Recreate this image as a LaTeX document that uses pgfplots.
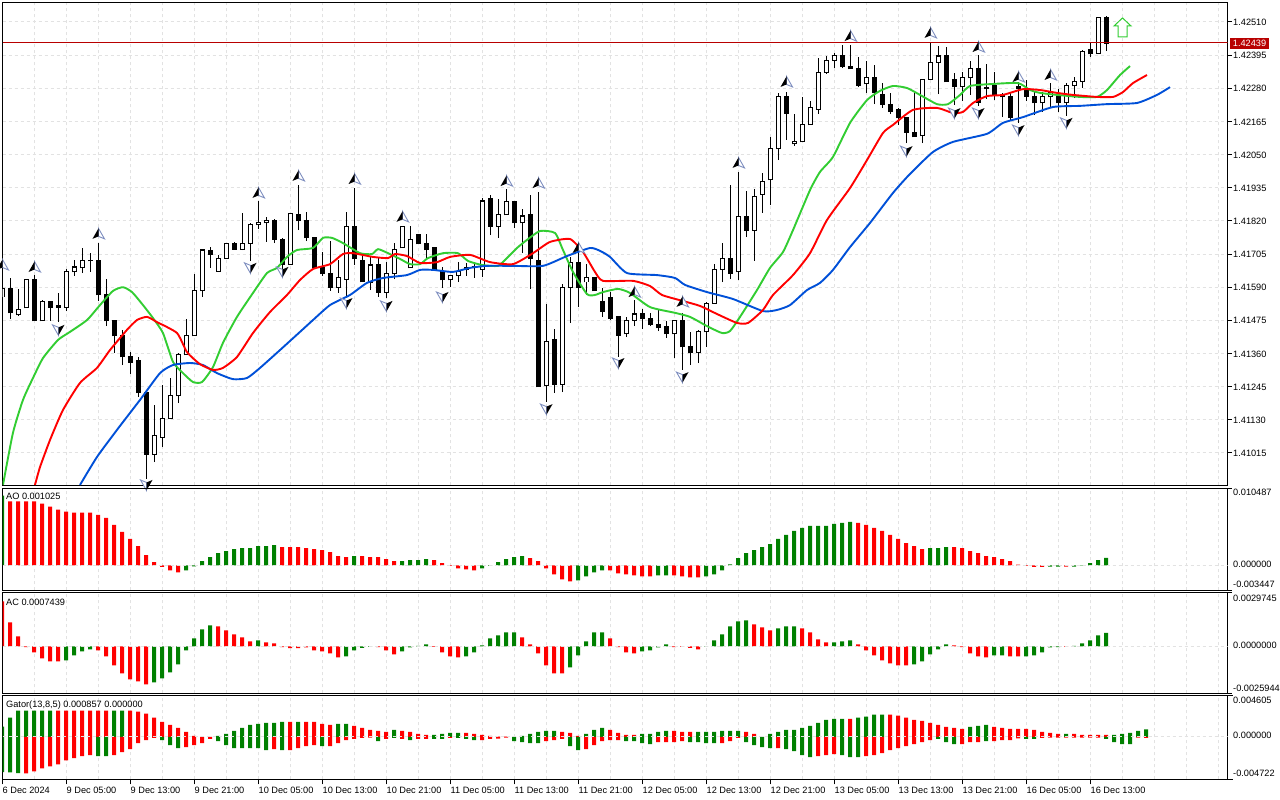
\documentclass[border=0pt]{standalone}
\usepackage{fontspec}
\setmainfont{Liberation Sans}
\usepackage{pgfplots}
\usepackage{pgfplotstable}
\pgfplotsset{compat=1.18}
\newcommand\lab{\fontsize{9.2}{10}\selectfont}
\definecolor{gridc}{HTML}{E2E2E2}
\definecolor{gbar}{HTML}{008000}
\definecolor{lips}{HTML}{32CD32}
\definecolor{jaw}{HTML}{0050D8}
\definecolor{pricec}{HTML}{B80000}
\definecolor{fracedge}{HTML}{7F8FC0}
\pgfdeclareplotmark{fup}{%
  \pgfpathmoveto{\pgfqpoint{0pt}{5.5pt}}\pgfpathlineto{\pgfqpoint{6pt}{-5pt}}\pgfpathlineto{\pgfqpoint{0pt}{-2.5pt}}\pgfpathclose
  \pgfsetfillcolor{white}\pgfsetstrokecolor{fracedge}\pgfsetlinewidth{0.9pt}\pgfusepath{fill,stroke}%
  \pgfpathmoveto{\pgfqpoint{0pt}{5.5pt}}\pgfpathlineto{\pgfqpoint{-6pt}{-5pt}}\pgfpathlineto{\pgfqpoint{0pt}{-2.5pt}}\pgfpathclose
  \pgfsetfillcolor{black}\pgfusepath{fill}}
\pgfdeclareplotmark{fdown}{%
  \pgfpathmoveto{\pgfqpoint{0pt}{-5.5pt}}\pgfpathlineto{\pgfqpoint{-6pt}{5pt}}\pgfpathlineto{\pgfqpoint{0pt}{2.5pt}}\pgfpathclose
  \pgfsetfillcolor{white}\pgfsetstrokecolor{fracedge}\pgfsetlinewidth{0.9pt}\pgfusepath{fill,stroke}%
  \pgfpathmoveto{\pgfqpoint{0pt}{-5.5pt}}\pgfpathlineto{\pgfqpoint{6pt}{5pt}}\pgfpathlineto{\pgfqpoint{0pt}{2.5pt}}\pgfpathclose
  \pgfsetfillcolor{black}\pgfusepath{fill}}
\pgfdeclareplotmark{bigup}{%
  \pgfpathmoveto{\pgfqpoint{0pt}{9.5pt}}\pgfpathlineto{\pgfqpoint{8.5pt}{1.5pt}}\pgfpathlineto{\pgfqpoint{4.5pt}{1.5pt}}\pgfpathlineto{\pgfqpoint{4.5pt}{-9.5pt}}\pgfpathlineto{\pgfqpoint{-4.5pt}{-9.5pt}}\pgfpathlineto{\pgfqpoint{-4.5pt}{1.5pt}}\pgfpathlineto{\pgfqpoint{-8.5pt}{1.5pt}}\pgfpathclose
  \pgfsetfillcolor{white}\pgfsetstrokecolor{lips}\pgfsetlinewidth{1pt}\pgfusepath{fill,stroke}}
\pgfplotstableread{
i hi top bot lo
0 1.41587 1.41587 1.41556 1.41556
2 1.41584 1.41511 1.41494 1.41490
3 1.41618 1.41618 1.41518 1.41518
5 1.41546 1.41539 1.41473 1.41473
8 1.41653 1.41646 1.41521 1.41507
9 1.41684 1.41660 1.41643 1.41629
10 1.41726 1.41684 1.41657 1.41639
11 1.41708 1.41684 1.41681 1.41643
19 1.41181 1.41074 1.41011 1.40983
20 1.41250 1.41133 1.41070 1.41036
21 1.41275 1.41213 1.41133 1.41133
22 1.41362 1.41355 1.41213 1.41188
23 1.41480 1.41421 1.41355 1.41355
24 1.41636 1.41577 1.41421 1.41421
25 1.41722 1.41719 1.41577 1.41556
27 1.41702 1.41688 1.41646 1.41646
28 1.41743 1.41743 1.41691 1.41691
30 1.41848 1.41743 1.41722 1.41719
31 1.41813 1.41806 1.41743 1.41681
32 1.41889 1.41816 1.41806 1.41792
33 1.41834 1.41823 1.41813 1.41747
36 1.41848 1.41844 1.41670 1.41670
42 1.41684 1.41625 1.41590 1.41570
43 1.41851 1.41799 1.41618 1.41556
46 1.41695 1.41667 1.41605 1.41580
48 1.41677 1.41636 1.41573 1.41553
49 1.41743 1.41722 1.41636 1.41618
50 1.41802 1.41799 1.41726 1.41726
51 1.41802 1.41757 1.41657 1.41657
56 1.41632 1.41629 1.41615 1.41590
57 1.41677 1.41646 1.41629 1.41608
58 1.41674 1.41657 1.41653 1.41629
59 1.41670 1.41660 1.41657 1.41622
60 1.41899 1.41889 1.41653 1.41625
62 1.41896 1.41841 1.41802 1.41761
63 1.41931 1.41886 1.41841 1.41841
65 1.41861 1.41837 1.41813 1.41708
68 1.41532 1.41403 1.41250 1.41192
70 1.41601 1.41590 1.41254 1.41226
71 1.41695 1.41677 1.41590 1.41466
73 1.41670 1.41622 1.41608 1.41563
78 1.41487 1.41476 1.41428 1.41417
79 1.41546 1.41497 1.41476 1.41455
84 1.41476 1.41473 1.41428 1.41344
87 1.41442 1.41435 1.41362 1.41327
88 1.41539 1.41535 1.41435 1.41383
89 1.41670 1.41653 1.41535 1.41535
90 1.41743 1.41691 1.41653 1.41608
92 1.41990 1.41834 1.41643 1.41615
94 1.41931 1.41906 1.41788 1.41681
95 1.41986 1.41958 1.41913 1.41848
96 1.42111 1.42070 1.41962 1.41875
97 1.42264 1.42250 1.42070 1.42031
99 1.42191 1.42097 1.42087 1.42080
100 1.42250 1.42153 1.42094 1.42094
101 1.42236 1.42212 1.42153 1.42153
102 1.42385 1.42336 1.42208 1.42191
103 1.42392 1.42378 1.42336 1.42330
104 1.42402 1.42395 1.42378 1.42350
108 1.42375 1.42319 1.42295 1.42264
115 1.42312 1.42312 1.42115 1.42090
116 1.42437 1.42371 1.42312 1.42312
117 1.42427 1.42392 1.42371 1.42260
120 1.42337 1.42319 1.42285 1.42236
121 1.42375 1.42350 1.42316 1.42257
130 1.42267 1.42250 1.42229 1.42198
131 1.42298 1.42264 1.42250 1.42212
133 1.42298 1.42291 1.42229 1.42184
134 1.42319 1.42302 1.42288 1.42246
135 1.42413 1.42409 1.42305 1.42281
137 1.42524 1.42524 1.42402 1.42402
}\wT
\pgfplotstableread{
i hi top bot lo
1 1.41622 1.41587 1.41501 1.41480
4 1.41632 1.41618 1.41473 1.41473
6 1.41539 1.41539 1.41521 1.41473
7 1.41570 1.41525 1.41521 1.41469
12 1.41743 1.41684 1.41563 1.41542
13 1.41618 1.41566 1.41473 1.41455
14 1.41476 1.41476 1.41421 1.41362
15 1.41442 1.41421 1.41348 1.41320
16 1.41365 1.41351 1.41330 1.41289
17 1.41348 1.41334 1.41223 1.41209
18 1.41223 1.41223 1.41011 1.40925
26 1.41729 1.41716 1.41705 1.41657
29 1.41747 1.41743 1.41722 1.41722
34 1.41827 1.41820 1.41757 1.41743
35 1.41761 1.41757 1.41667 1.41650
37 1.41945 1.41841 1.41820 1.41788
38 1.41851 1.41823 1.41761 1.41750
39 1.41761 1.41761 1.41657 1.41657
40 1.41712 1.41657 1.41636 1.41629
41 1.41750 1.41639 1.41590 1.41577
44 1.41934 1.41799 1.41688 1.41667
45 1.41708 1.41684 1.41608 1.41608
47 1.41691 1.41667 1.41573 1.41556
52 1.41771 1.41771 1.41740 1.41740
53 1.41775 1.41743 1.41719 1.41684
54 1.41729 1.41726 1.41653 1.41650
55 1.41660 1.41643 1.41615 1.41587
61 1.41910 1.41896 1.41802 1.41771
64 1.41889 1.41886 1.41813 1.41795
66 1.41910 1.41841 1.41688 1.41584
67 1.41920 1.41684 1.41244 1.41244
69 1.41445 1.41407 1.41254 1.41223
72 1.41729 1.41677 1.41590 1.41521
74 1.41622 1.41622 1.41577 1.41577
75 1.41587 1.41542 1.41507 1.41487
76 1.41573 1.41553 1.41483 1.41476
77 1.41487 1.41487 1.41424 1.41348
80 1.41514 1.41497 1.41480 1.41445
81 1.41501 1.41483 1.41459 1.41455
82 1.41514 1.41462 1.41449 1.41438
83 1.41473 1.41452 1.41428 1.41414
85 1.41501 1.41473 1.41383 1.41303
86 1.41435 1.41383 1.41362 1.41320
91 1.41945 1.41691 1.41639 1.41618
93 1.41924 1.41834 1.41788 1.41764
98 1.42267 1.42250 1.42194 1.42101
105 1.42430 1.42395 1.42354 1.42350
106 1.42430 1.42357 1.42347 1.42347
107 1.42389 1.42350 1.42291 1.42284
109 1.42361 1.42319 1.42264 1.42225
110 1.42298 1.42257 1.42225 1.42212
111 1.42264 1.42222 1.42201 1.42191
112 1.42212 1.42205 1.42177 1.42153
113 1.42180 1.42180 1.42128 1.42090
114 1.42264 1.42128 1.42111 1.42111
118 1.42423 1.42392 1.42302 1.42302
119 1.42333 1.42309 1.42285 1.42222
122 1.42395 1.42347 1.42232 1.42219
123 1.42364 1.42281 1.42278 1.42243
124 1.42337 1.42288 1.42257 1.42239
125 1.42264 1.42257 1.42250 1.42180
126 1.42264 1.42250 1.42180 1.42170
127 1.42302 1.42285 1.42278 1.42160
128 1.42309 1.42274 1.42253 1.42236
129 1.42271 1.42253 1.42229 1.42187
132 1.42277 1.42253 1.42229 1.42198
136 1.42437 1.42413 1.42399 1.42389
138 1.42531 1.42527 1.42437 1.42409
}\bT
\pgfplotsset{
  panel/.style={scale only axis, width=1225pt, xmin=0, xmax=153.125,
    scaled y ticks=false, scaled x ticks=false,
    axis line style={black,line width=1pt},
    xtick={0,8,...,136}, minor xtick={4,12,20,28,36,44,52,60,68,76,84,92,100,108,116,124,132,140,144,148,152},
    xmajorgrids, xminorgrids,
    every x tick/.style={black,line width=1pt}, minor tick length=0pt,
    grid style={draw=gridc,line width=1pt,dash pattern=on 3pt off 3pt},
    minor grid style={draw=gridc,line width=1pt,dash pattern=on 3pt off 3pt},
    x tick label style={font=\lab},
    xticklabels={}, major x tick style={draw=none},
    ytick pos=right, yticklabel pos=right,
    every y tick/.style={black,line width=1pt}, major tick length=4pt, tick align=outside,
    xtick pos=bottom,
    yticklabels={},
  },
  sub/.style={panel, ytick={#1}, ymajorgrids=false},
  rbar/.style={ybar,bar width=4pt,bar shift=-0.5pt,fill=red,draw=none,forget plot},
  gbarst/.style={ybar,bar width=4pt,bar shift=-0.5pt,fill=gbar,draw=none,forget plot},
  zeroline/.style={draw=gridc,line width=1pt,dash pattern=on 3pt off 3pt,no marks,forget plot},
  ll/.style={line width=1.9pt,no marks,smooth,tension=0.35,line join=round,forget plot},
}
\begin{document}
\begin{tikzpicture}
\useasboundingbox (0pt,0pt) rectangle (1280pt,800pt);
\fill[white] (0pt,0pt) rectangle (1280pt,800pt);
% ---------------- main
\begin{axis}[panel, at={(2.5pt,314.5pt)}, anchor=south west, height=483pt,
  ymin=1.409021, ymax=1.425776,
  ytick={1.41015,1.41130,1.41245,1.41360,1.41475,1.41590,1.41705,1.41820,1.41935,1.42050,1.42165,1.42280,1.42395,1.42510},
  yticklabels={1.41015,1.41130,1.41245,1.41360,1.41475,1.41590,1.41705,1.41820,1.41935,1.42050,1.42165,1.42280,1.42395,1.42510},
  ymajorgrids,
  y tick label style={font=\lab,anchor=west,inner xsep=0pt,xshift=1.5pt,yshift=-0.5pt},
]
% wicks
\addplot[black,draw=none,no marks,forget plot,error bars/.cd,y dir=both,y explicit,error mark=none,error bar style={draw=black,line width=1pt}]
  table[x=i,y=lo,y error plus expr=\thisrow{hi}-\thisrow{lo},y error minus expr=0] {\wT};
\addplot[black,draw=none,no marks,forget plot,error bars/.cd,y dir=both,y explicit,error mark=none,error bar style={draw=black,line width=1pt}]
  table[x=i,y=lo,y error plus expr=\thisrow{hi}-\thisrow{lo},y error minus expr=0] {\bT};
% bodies
\addplot[black,draw=none,no marks,forget plot,error bars/.cd,y dir=both,y explicit,error mark=none,error bar style={draw=black,line width=5pt}]
  table[x=i,y expr=\thisrow{bot}-0.000017,y error plus expr=\thisrow{top}-\thisrow{bot}+0.000035,y error minus expr=0] {\bT};
\addplot[black,draw=none,no marks,forget plot,error bars/.cd,y dir=both,y explicit,error mark=none,error bar style={draw=black,line width=5pt}]
  table[x=i,y expr=\thisrow{bot}-0.000017,y error plus expr=\thisrow{top}-\thisrow{bot}+0.000035,y error minus expr=0] {\wT};
\addplot[black,draw=none,no marks,forget plot,error bars/.cd,y dir=both,y explicit,error mark=none,error bar style={draw=white,line width=3pt}]
  table[x=i,y expr=\thisrow{bot}+0.000017,y error plus expr={max(\thisrow{top}-\thisrow{bot}-0.000035,0)},y error minus expr=0] {\wT};
% price line
\addplot[pricec,line width=1pt,no marks,forget plot] coordinates {(0,1.42439)(153.125,1.42439)};
% lips (green)
\addplot[ll,lips] coordinates {(0.06,1.40904)(1.31,1.41085)(2.56,1.41199)(3.81,1.41275)(5.06,1.41344)(6.94,1.41407)(8.44,1.41435)(10.56,1.41476)(12.19,1.41528)(13.81,1.41577)(15.06,1.41590)(16.19,1.41573)(17.56,1.41528)(18.81,1.41483)(20.06,1.41431)(21.31,1.41331)(22.56,1.41292)(23.81,1.41261)(24.94,1.41261)(26.31,1.41313)(27.56,1.41397)(29.31,1.41487)(31.31,1.41570)(33.06,1.41639)(34.31,1.41657)(35.56,1.41695)(36.81,1.41719)(38.81,1.41726)(40.06,1.41761)(41.19,1.41761)(42.56,1.41743)(44.69,1.41708)(46.19,1.41705)(46.94,1.41722)(48.19,1.41708)(49.69,1.41688)(50.94,1.41670)(52.19,1.41670)(53.19,1.41691)(55.06,1.41708)(56.94,1.41708)(58.19,1.41681)(59.94,1.41667)(61.94,1.41664)(63.06,1.41691)(64.31,1.41726)(65.56,1.41754)(67.19,1.41785)(69.06,1.41778)(70.06,1.41719)(71.31,1.41643)(73.06,1.41566)(74.06,1.41563)(75.06,1.41573)(76.94,1.41584)(78.44,1.41570)(80.94,1.41521)(84.06,1.41501)(85.94,1.41487)(88.06,1.41455)(89.94,1.41431)(90.94,1.41438)(92.19,1.41487)(94.31,1.41580)(95.94,1.41657)(97.56,1.41712)(98.81,1.41788)(100.94,1.41927)(102.19,1.41990)(103.81,1.42042)(105.94,1.42160)(108.06,1.42239)(109.69,1.42271)(111.31,1.42288)(113.06,1.42281)(114.69,1.42257)(116.81,1.42225)(118.19,1.42225)(119.69,1.42257)(120.94,1.42288)(123.81,1.42295)(126.94,1.42298)(128.44,1.42274)(129.69,1.42264)(131.81,1.42257)(134.69,1.42250)(136.81,1.42250)(138.06,1.42274)(139.69,1.42326)(140.94,1.42357)};
% jaw (blue)
\addplot[ll,jaw] coordinates {(9.69,1.40904)(11.81,1.41001)(14.31,1.41095)(17.19,1.41199)(19.69,1.41292)(21.31,1.41320)(23.44,1.41327)(25.06,1.41320)(26.81,1.41292)(28.81,1.41271)(30.56,1.41275)(32.19,1.41310)(34.69,1.41372)(37.19,1.41435)(38.81,1.41476)(40.94,1.41528)(43.44,1.41563)(45.56,1.41605)(47.56,1.41622)(50.56,1.41632)(52.19,1.41650)(53.81,1.41650)(56.31,1.41643)(58.44,1.41657)(60.56,1.41664)(63.81,1.41664)(67.56,1.41664)(70.56,1.41698)(73.44,1.41726)(74.69,1.41716)(75.94,1.41695)(78.06,1.41639)(81.81,1.41632)(84.06,1.41622)(85.31,1.41598)(88.06,1.41573)(91.31,1.41549)(95.06,1.41507)(96.81,1.41511)(98.44,1.41528)(100.56,1.41580)(102.19,1.41605)(103.81,1.41650)(105.94,1.41729)(108.44,1.41813)(111.31,1.41917)(113.44,1.41983)(116.31,1.42059)(118.81,1.42094)(123.06,1.42122)(125.06,1.42160)(127.56,1.42180)(131.31,1.42215)(134.69,1.42219)(138.06,1.42225)(141.81,1.42229)(144.31,1.42257)(145.94,1.42284)};
% teeth (red)
\addplot[ll,red] coordinates {(4.06,1.40904)(4.69,1.40966)(5.94,1.41060)(7.56,1.41164)(9.69,1.41258)(11.81,1.41310)(13.44,1.41372)(15.56,1.41442)(16.81,1.41476)(18.06,1.41487)(19.31,1.41469)(21.81,1.41431)(23.06,1.41365)(24.69,1.41323)(26.31,1.41303)(27.56,1.41310)(29.31,1.41348)(31.31,1.41431)(33.44,1.41504)(35.56,1.41563)(37.19,1.41615)(38.81,1.41653)(40.94,1.41670)(42.56,1.41705)(43.81,1.41708)(46.31,1.41695)(48.19,1.41691)(49.06,1.41705)(50.56,1.41698)(52.19,1.41674)(54.31,1.41677)(55.94,1.41695)(58.44,1.41702)(60.94,1.41677)(63.81,1.41670)(66.31,1.41708)(68.44,1.41747)(70.94,1.41757)(72.56,1.41712)(74.06,1.41643)(75.06,1.41612)(78.81,1.41612)(80.94,1.41594)(82.44,1.41563)(85.06,1.41542)(87.19,1.41525)(89.31,1.41497)(91.81,1.41466)(93.19,1.41466)(95.06,1.41511)(96.31,1.41563)(98.81,1.41632)(100.94,1.41708)(103.06,1.41823)(105.94,1.41934)(108.06,1.42031)(110.06,1.42125)(111.31,1.42153)(113.81,1.42205)(116.81,1.42212)(118.81,1.42194)(120.06,1.42198)(121.31,1.42229)(123.06,1.42253)(125.06,1.42257)(127.56,1.42277)(129.69,1.42274)(131.81,1.42264)(133.81,1.42257)(136.81,1.42250)(138.81,1.42250)(140.06,1.42267)(141.31,1.42298)(143.06,1.42326)};
% fractals
\addplot[only marks,mark=fup,forget plot] coordinates {(0,1.41667)(4,1.41660)(12,1.41775)(32,1.41917)(37,1.41976)(44,1.41965)(50,1.41834)(63,1.41958)(67,1.41951)(72,1.41726)(79,1.41573)(85,1.41539)(92,1.42021)(98,1.42302)(106,1.42461)(116,1.42472)(122,1.42423)(127,1.42319)(131,1.42326)};
\addplot[only marks,mark=fdown,forget plot] coordinates {(7,1.41442)(18,1.40904)(31,1.41657)(35,1.41643)(43,1.41535)(48,1.41525)(55,1.41556)(68,1.41167)(77,1.41327)(85,1.41278)(113,1.42062)(119,1.42194)(122,1.42194)(127,1.42135)(133,1.42160)};
\addplot[only marks,mark=bigup,forget plot] coordinates {(140,1.42491)};
\end{axis}
% ---------------- AO
\begin{axis}[sub={0.010487,-0.003447}, at={(2.5pt,209.5pt)}, anchor=south west, height=102pt, ymin=-0.003447, ymax=0.010487]
\addplot[rbar] coordinates {(1,.00874)(2,.00874)(3,.00874)(4,.00874)(5,.008418)(6,.008004)(7,.00759)(8,.007314)(9,.007176)(10,.007176)(11,.007176)(12,.0069)(13,.006486)(14,.00552)(15,.004554)(16,.003588)(17,.002622)(18,.00138)(19,.000414)(20,-.00023)(21,-.00069)(22,-.000966)(35,.002484)(36,.002484)(37,.002484)(38,.002346)(39,.002208)(40,.00207)(41,.001794)(42,.001242)(43,.001104)(45,.001242)(46,.001104)(47,.001104)(48,.000828)(49,.000552)(54,.00069)(55,.000276)(56,-.000092)(57,-.000414)(58,-.000552)(59,-.00069)(66,.000966)(67,.000552)(68,-.000414)(69,-.001242)(70,-.001932)(71,-.002208)(76,-.00069)(77,-.001104)(78,-.001242)(79,-.00138)(80,-.001518)(81,-.001518)(84,-.00138)(85,-.001518)(86,-.001656)(87,-.001656)(107,.005796)(108,.00552)(109,.005106)(110,.004692)(111,.00414)(112,.003588)(113,.003036)(114,.002622)(115,.002208)(119,.002484)(120,.002346)(121,.001932)(122,.001656)(123,.001242)(124,.001104)(125,.000828)(126,.000552)(127,.000092)(128,-.000092)(129,-.00023)(130,-.00023)(133,-.000184)};
\addplot[gbarst] coordinates {(0,.009522)(23,-.00069)(24,-.000138)(25,.000552)(26,.001104)(27,.001656)(28,.001932)(29,.002208)(30,.002346)(31,.002346)(32,.002622)(33,.002622)(34,.00276)(44,.001242)(50,.000552)(51,.00069)(52,.00069)(53,.000828)(60,-.000414)(61,-.000092)(62,.000414)(63,.000828)(64,.001104)(65,.001242)(72,-.00207)(73,-.001518)(74,-.000966)(75,-.00069)(82,-.00138)(83,-.00138)(88,-.001518)(89,-.001242)(90,-.00069)(91,.000138)(92,.000966)(93,.001656)(94,.00207)(95,.002484)(96,.002898)(97,.003588)(98,.00414)(99,.004692)(100,.005106)(101,.005382)(102,.005382)(103,.005382)(104,.005658)(105,.005796)(106,.005934)(116,.002346)(117,.002346)(118,.002484)(131,-.000184)(132,-.000184)(134,-.000184)(135,-.000046)(136,.000276)(137,.00069)(138,.001025)};
\addplot[zeroline] coordinates {(0,0)(153.125,0)};
\end{axis}
% ---------------- AC
\begin{axis}[sub={0.0029745,-0.0025944}, at={(2.5pt,106.5pt)}, anchor=south west, height=101pt, ymin=-0.0025944, ymax=0.0029745]
\addplot[rbar] coordinates {(0,.002481)(1,.001323)(2,.000551)(3,-.000037)(4,-.000331)(5,-.000662)(6,-.000827)(7,-.000827)(12,-.000221)(13,-.000551)(14,-.001048)(15,-.001489)(16,-.00182)(17,-.00193)(18,-.002095)(27,.001103)(28,.000882)(29,.000662)(30,.000496)(31,.000276)(33,.000221)(34,.000165)(35,-.000037)(36,-.000092)(37,-.000092)(38,-.000055)(39,-.000221)(40,-.000276)(41,-.000386)(42,-.000607)(47,-.000037)(48,-.000221)(49,-.000441)(54,-.000018)(55,-.000331)(56,-.000551)(57,-.000607)(65,.000496)(66,.00011)(67,-.000386)(68,-.001048)(69,-.001489)(70,-.001489)(76,.000441)(77,-.000037)(78,-.000331)(79,-.000386)(84,-.000037)(85,-.000018)(86,-.000074)(87,-.000165)(94,.001213)(95,.001048)(96,.000882)(100,.000993)(101,.000772)(102,.000386)(103,.000221)(107,.00011)(108,-.000221)(109,-.000496)(110,-.000772)(111,-.000937)(112,-.001048)(113,-.001048)(119,.000055)(120,-.000037)(121,-.000386)(122,-.000551)(123,-.000607)(126,-.000551)(127,-.000551)(133,-.000018)};
\addplot[gbarst] coordinates {(8,-.000772)(9,-.000496)(10,-.000276)(11,-.000165)(19,-.001985)(20,-.001764)(21,-.001434)(22,-.000993)(23,-.000221)(24,.000441)(25,.000937)(26,.001158)(32,.000331)(43,-.000551)(44,-.000221)(45,-.000074)(46,-.000018)(50,-.000276)(51,-.000055)(52,.000037)(53,.00011)(58,-.000551)(59,-.000331)(60,.000055)(61,.000441)(62,.000607)(63,.000772)(64,.000772)(71,-.001158)(72,-.000496)(73,.000276)(74,.000772)(75,.000772)(80,-.000276)(81,-.000221)(82,-.000055)(83,.00011)(88,.000018)(89,.000331)(90,.000662)(91,.001103)(92,.001379)(93,.001434)(97,.000993)(98,.001103)(99,.001103)(104,.000221)(105,.000276)(106,.000331)(114,-.000993)(115,-.000827)(116,-.000441)(117,-.000165)(118,.00011)(124,-.000496)(125,-.000496)(128,-.000551)(129,-.000496)(130,-.000331)(131,-.000055)(132,-.000037)(134,.000037)(135,.000165)(136,.000331)(137,.000607)(138,.000744)};
\addplot[zeroline] coordinates {(0,0)(153.125,0)};
\end{axis}
% ---------------- Gator
\begin{axis}[sub={0.004605,-0.004722}, at={(2.5pt,20.5pt)}, anchor=south west, height=84pt, ymin=-0.004722, ymax=0.004605,
  major x tick style={draw=black,line width=1pt}, major tick length=5pt,
  xticklabels={6 Dec 2024,9 Dec 05:00,9 Dec 13:00,9 Dec 21:00,10 Dec 05:00,10 Dec 13:00,10 Dec 21:00,11 Dec 05:00,11 Dec 13:00,11 Dec 21:00,12 Dec 05:00,12 Dec 13:00,12 Dec 21:00,13 Dec 05:00,13 Dec 13:00,13 Dec 21:00,16 Dec 05:00,16 Dec 13:00},
  x tick label style={font=\lab,anchor=north west,inner xsep=0pt,inner ysep=0pt,yshift=-2pt},
]
% upper, red
\addplot[rbar] coordinates {(7,.002922)(8,.002922)(9,.002922)(10,.002922)(11,.002922)(12,.002922)(13,.002922)(16,.002922)(17,.00281)(18,.002585)(19,.002135)(20,.001686)(21,.001349)(22,.001011)(23,.000562)(24,.000112)(36,.001686)(38,.001686)(39,.001686)(40,.001461)(41,.001349)(44,.001236)(45,.001011)(46,.000787)(47,.000674)(48,.000562)(50,.000674)(51,.000562)(52,.000337)(53,.000225)(58,.00045)(59,.000337)(60,.000225)(61,.000112)(62,.000037)(63,.000037)(70,.000562)(71,.00045)(72,.000112)(76,.000787)(77,.00045)(78,.000225)(79,.000225)(84,.000674)(85,.000562)(86,.000562)(93,.000562)(94,.000337)(106,.002023)(111,.002472)(112,.00236)(113,.002135)(114,.00191)(115,.001798)(116,.001573)(117,.001349)(118,.001124)(119,.001011)(120,.000899)(124,.001124)(125,.001011)(126,.000899)(127,.000899)(128,.000899)(129,.000787)(130,.000562)(131,.00045)(132,.000337)(134,.000337)(135,.000225)(136,.000225)(137,.000225)(138,.000225)};
% upper, green
\addplot[gbarst] coordinates {(0,.001161)(1,.002135)(2,.002922)(3,.002922)(4,.002922)(5,.002922)(6,.002922)(14,.002922)(15,.002922)(27,.000112)(28,.000337)(29,.000674)(30,.001011)(31,.001349)(32,.001461)(33,.001573)(34,.001573)(35,.001686)(37,.001686)(42,.001461)(43,.001461)(49,.000787)(54,.000225)(55,.000337)(56,.00045)(57,.00045)(65,.000112)(66,.000337)(67,.000562)(68,.000674)(69,.000674)(73,.000337)(74,.000787)(75,.001011)(80,.000337)(81,.000337)(82,.000562)(83,.000674)(87,.000562)(88,.000562)(89,.000562)(90,.000674)(91,.000674)(92,.000674)(96,.000337)(97,.000562)(98,.000787)(99,.000787)(100,.001011)(101,.001236)(102,.001573)(103,.00191)(104,.002023)(105,.002023)(107,.002135)(108,.002248)(109,.002472)(110,.002472)(121,.001124)(122,.001236)(123,.001349)(133,.000337)(139,.000225)(140,.000337)(141,.00045)(142,.000674)(143,.000857)};
% lower, red
\addplot[rbar] coordinates {(3,-.004046)(4,-.003821)(5,-.003484)(6,-.003259)(7,-.003034)(8,-.002585)(9,-.00236)(10,-.002135)(11,-.002023)(14,-.002023)(15,-.001686)(16,-.001349)(17,-.000674)(18,-.000337)(19,-.000112)(23,-.001124)(24,-.000899)(25,-.000674)(26,-.000225)(34,-.001349)(36,-.001461)(37,-.001236)(38,-.001011)(39,-.000899)(41,-.001011)(42,-.000674)(43,-.000337)(44,-.000225)(45,-.000112)(46,-.000075)(48,-.000225)(50,-.000225)(52,-.000225)(53,-.000225)(56,-.000112)(60,-.000337)(61,-.000225)(62,-.000187)(63,-.000075)(68,-.00045)(69,-.000337)(70,-.000225)(73,-.001349)(74,-.000899)(75,-.00045)(76,-.000337)(77,-.000337)(82,-.000562)(83,-.000562)(84,-.000562)(85,-.00045)(90,-.000674)(91,-.00045)(92,-.000112)(97,-.001236)(102,-.002135)(103,-.002023)(104,-.00191)(108,-.002135)(109,-.002023)(110,-.001798)(111,-.001461)(112,-.001236)(113,-.001011)(114,-.000787)(115,-.000562)(116,-.000337)(120,-.000787)(121,-.000562)(122,-.000562)(124,-.00045)(125,-.000337)(126,-.000337)(127,-.00015)(130,-.000112)(131,-.000075)(132,-.000075)(133,-.000075)(134,-.000075)(135,-.000075)(136,-.000075)(137,-.000075)(142,-.000075)(143,-.000112)};
% lower, green
\addplot[gbarst] coordinates {(0,-.003896)(1,-.003933)(2,-.004008)(12,-.002135)(13,-.002135)(20,-.000337)(21,-.000899)(22,-.001236)(27,-.00045)(28,-.000899)(29,-.001236)(30,-.001236)(31,-.001236)(32,-.001236)(33,-.001461)(35,-.001461)(40,-.001011)(47,-.00045)(49,-.000112)(51,-.000337)(54,-.000225)(55,-.000225)(57,-.000112)(58,-.000225)(59,-.000337)(64,-.00045)(65,-.000562)(66,-.000674)(67,-.000674)(71,-.001011)(72,-.001461)(78,-.00045)(79,-.00045)(80,-.000674)(81,-.000787)(86,-.000562)(87,-.000562)(88,-.000674)(89,-.000674)(93,-.000562)(94,-.000899)(95,-.001124)(96,-.001236)(98,-.001349)(99,-.001573)(100,-.002023)(101,-.002248)(105,-.002023)(106,-.002248)(107,-.002248)(117,-.000225)(118,-.000562)(119,-.000787)(123,-.00045)(128,-.000225)(129,-.000225)(138,-.000225)(139,-.000562)(140,-.000787)(141,-.000787)};
\addplot[zeroline] coordinates {(0,0)(153.125,0)};
\end{axis}
% ---------------- texts
\node[fill=pricec,text=white,font=\lab,minimum width=39pt,minimum height=11.5pt,inner sep=0pt] at (1249.5pt,756.5pt) {1.42439};
\begin{scope}[every node/.style={font=\lab,anchor=west,inner sep=0pt}]
\node at (1233pt,308pt) {0.010487};
\node at (1233pt,236pt) {0.000000};
\node at (1233pt,215.5pt) {-0.003447};
\node at (1233pt,202pt) {0.0029745};
\node at (1233pt,154.5pt) {0.0000000};
\node at (1233pt,112pt) {-0.0025944};
\node at (1233pt,99.5pt) {0.004605};
\node at (1233pt,64.5pt) {0.000000};
\node at (1233pt,27pt) {-0.004722};
\end{scope}
\begin{scope}[every node/.style={font=\lab,anchor=base west,inner sep=0pt}]
\node at (6pt,300.5pt) {AO 0.001025};
\node at (6pt,194.5pt) {AC 0.0007439};
\node at (6pt,92.5pt) {Gator(13,8,5) 0.000857 0.000000};
\end{scope}
\end{tikzpicture}
\end{document}
